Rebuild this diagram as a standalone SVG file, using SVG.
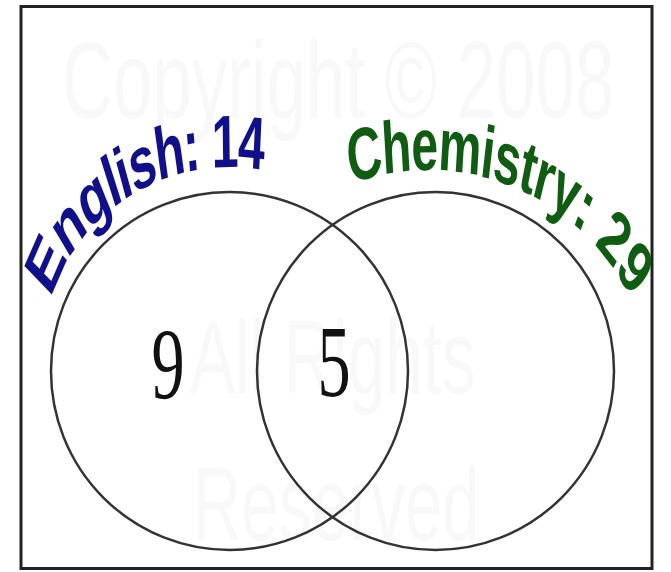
<svg xmlns="http://www.w3.org/2000/svg" width="671" height="572" viewBox="0 0 671 572">
<style>
.frame{fill:#fff;stroke:#222;stroke-width:3}
.set{fill:none;stroke:#333;stroke-width:2.5}
.label{font-family:"Liberation Sans",Arial,sans-serif;font-weight:bold;font-size:74px}
.num{font-family:"Liberation Serif","Times New Roman",serif;font-size:102px;fill:#111;text-anchor:middle}
.wm{font-family:"Liberation Sans",Arial,sans-serif;fill:#f8f8f8}
</style>
<defs>
<path id="arcEnglish" d="M78.7,299.3 A287.7,187 0 0 1 475.4,184.5"/>
<path id="arcChem" d="M538.7,184.1 A343.8,223.5 0 0 1 997.1,354.8"/>
</defs>
<rect class="frame" x="21" y="6.5" width="631" height="562"/>
<g id="watermark" transform="scale(0.65,1)">
<text class="wm" x="95.4" y="118" font-size="109">Copyright © 2008</text>
<text class="wm" x="292.3" y="393" font-size="104">All Rights</text>
<text class="wm" x="296.9" y="540" font-size="103">Reserved</text>
</g>
<g id="english">
<ellipse class="set" cx="229.5" cy="371" rx="178.5" ry="179"/>
<text class="label" fill="#10108a" transform="scale(0.65,1)" letter-spacing="-2.2"><textPath href="#arcEnglish">English: 14</textPath></text>
</g>
<g id="chemistry">
<ellipse class="set" cx="435.5" cy="371" rx="178.5" ry="179"/>
<text class="label" fill="#0f5c12" transform="scale(0.65,1)" letter-spacing="-1.5"><textPath href="#arcChem">Chemistry: 29</textPath></text>
</g>
<g id="english-only">
<text class="num" transform="translate(168,399) scale(0.65,1)">9</text>
</g>
<g id="both">
<text class="num" transform="translate(334,396) scale(0.65,1)">5</text>
</g>
</svg>
